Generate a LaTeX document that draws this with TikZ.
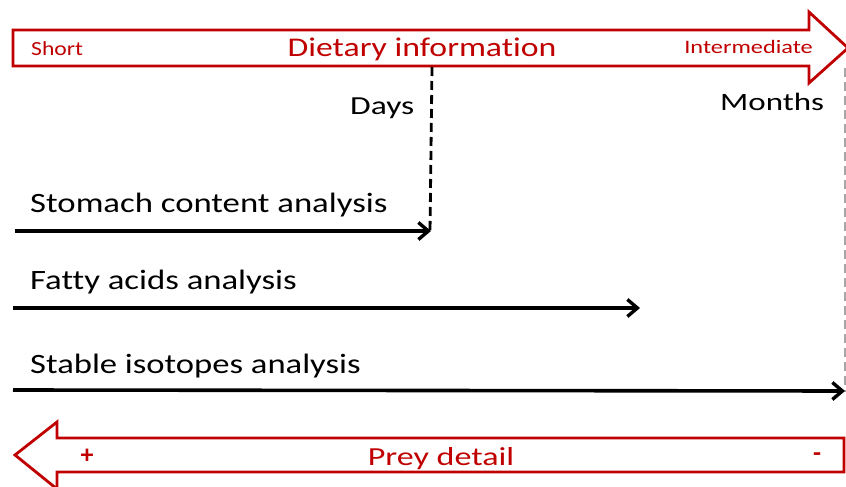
\documentclass[tikz,border=0pt]{standalone}
\usepackage{fontspec}
\usepackage{graphicx}
\setmainfont{Carlito}[Ligatures=NoCommon]
\usetikzlibrary{arrows.meta}
\definecolor{dred}{HTML}{C00000}
\newcommand{\widetxt}[2]{\scalebox{#1}[1]{#2}}
\tikzset{
  bigarrow/.style={draw=dred, line width=2.8bp, fill=white, line join=miter},
  redtxt/.style={text=dred, inner sep=0pt},
  blktxt/.style={text=black, inner sep=0pt, font=\fontsize{28bp}{32bp}\selectfont},
  timeline/.style={line width=3.6bp, -{Straight Barb[length=10bp,width=17bp,line width=3.4bp]}},
  daymark/.style={line width=2.8bp, dash pattern=on 9bp off 5bp},
  monthmark/.style={line width=1.3bp, draw=black!35, dash pattern=on 9bp off 5bp}
}
\begin{document}
\begin{tikzpicture}[x=1bp,y=-1bp]
\useasboundingbox (0,0) rectangle (846,487);
\clip (0,0) rectangle (846,487);
% top arrow
\draw[bigarrow] (13,30) -- (809,30) -- (809,12) -- (848,48) -- (809,83) -- (809,66) -- (13,66) -- cycle;
\node[redtxt, anchor=base west, font=\fontsize{20bp}{24bp}\selectfont] (short) at (31,56) {\widetxt{1.18}{Short}};
\node[redtxt, anchor=base, font=\fontsize{27bp}{32bp}\selectfont] (diet) at (422,57) {\widetxt{1.25}{Dietary information}};
\node[redtxt, anchor=base east, font=\fontsize{19bp}{24bp}\selectfont] (inter) at (813,54) {\widetxt{1.28}{Intermediate}};
% bottom arrow
\draw[bigarrow] (844,438) -- (57,438) -- (57,422) -- (15,455) -- (57,489) -- (57,472) -- (844,472) -- cycle;
\node[redtxt, anchor=center, font=\bfseries\fontsize{26bp}{28bp}\selectfont] (plus) at (87,456) {+};
\node[redtxt, anchor=center, font=\bfseries\fontsize{26bp}{28bp}\selectfont] (minus) at (817,457) {-};
\node[redtxt, anchor=base, font=\fontsize{26bp}{30bp}\selectfont] (prey) at (441,465) {\widetxt{1.31}{Prey detail}};
% time marks
\node[anchor=base west, inner sep=0pt, font=\fontsize{26bp}{30bp}\selectfont] (days) at (350,115) {\widetxt{1.29}{Days}};
\node[anchor=base west, inner sep=0pt, font=\fontsize{25bp}{30bp}\selectfont] (months) at (720,111) {\widetxt{1.32}{Months}};
\coordinate (d0) at (432,67);
\coordinate (d1) at (430,232);
\coordinate (m0) at (845,68);
\coordinate (m1) at (845,392);
\draw[daymark] (d0) -- (d1);
\draw[monthmark] (m0) -- (m1);
% method lines
\node[blktxt, anchor=base west] (stomach) at (30,213) {\widetxt{1.24}{Stomach content analysis}};
\node[blktxt, anchor=base west] (fatty) at (30,290) {\widetxt{1.24}{Fatty acids analysis}};
\node[blktxt, anchor=base west] (stable) at (30,373) {\widetxt{1.236}{Stable isotopes analysis}};
\coordinate (s0) at (15,231);
\coordinate (s1) at (431,231);
\coordinate (f0) at (13,308);
\coordinate (f1) at (640,308);
\coordinate (i0) at (13,390);
\coordinate (i1) at (845,391);
\draw[timeline] (s0) -- (s1);
\draw[timeline] (f0) -- (f1);
\draw[timeline] (i0) -- (i1);
\end{tikzpicture}
\end{document}
